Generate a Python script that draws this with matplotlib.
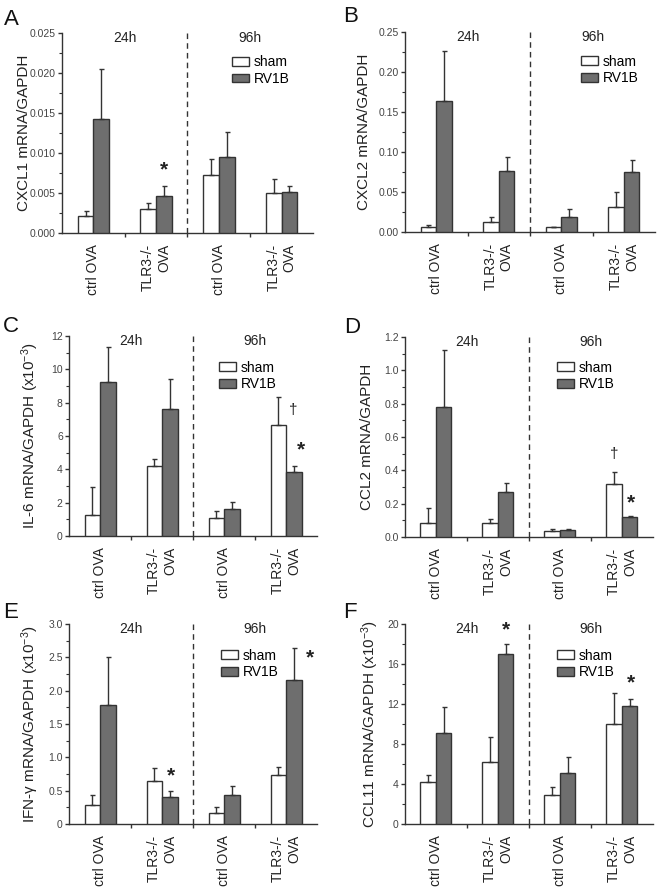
import numpy as np
import matplotlib
matplotlib.use("Agg")
import matplotlib.pyplot as plt
from matplotlib.ticker import MultipleLocator, FixedLocator, FuncFormatter

plt.rcParams['font.family'] = ['Liberation Sans', 'DejaVu Sans']
plt.rcParams['mathtext.fontset'] = 'custom'
plt.rcParams['mathtext.rm'] = 'Liberation Sans'
plt.rcParams['mathtext.it'] = 'Liberation Sans:italic'

groups = ["ctrl OVA", "TLR3-/-\nOVA", "ctrl OVA", "TLR3-/-\nOVA"]
series = ["sham", "RV1B"]

# panel A - CXCL1
a_sham = [0.00213, 0.0030, 0.00723, 0.00506]
a_sham_err = [0.00059, 0.00076, 0.00205, 0.00167]
a_rv = [0.0143, 0.00464, 0.00949, 0.00518]
a_rv_err = [0.0062, 0.00121, 0.0031, 0.00072]

# panel B - CXCL2
b_sham = [0.0058, 0.0125, 0.0058, 0.0313]
b_sham_err = [0.0034, 0.0058, 0.0009, 0.0183]
b_rv = [0.164, 0.0767, 0.0183, 0.0754]
b_rv_err = [0.0627, 0.0171, 0.010, 0.0146]

# panel C - IL-6 (x10^-3)
c_sham = [1.24, 4.21, 1.08, 6.65]
c_sham_err = [1.71, 0.44, 0.42, 1.69]
c_rv = [9.26, 7.6, 1.64, 3.85]
c_rv_err = [2.06, 1.8, 0.40, 0.38]

# panel D - CCL2
d_sham = [0.082, 0.082, 0.034, 0.317]
d_sham_err = [0.094, 0.028, 0.012, 0.073]
d_rv = [0.78, 0.27, 0.044, 0.122]
d_rv_err = [0.342, 0.055, 0.004, 0.002]

# panel E - IFN-gamma (x10^-3)
e_sham = [0.29, 0.64, 0.166, 0.73]
e_sham_err = [0.14, 0.20, 0.09, 0.12]
e_rv = [1.79, 0.41, 0.43, 2.16]
e_rv_err = [0.71, 0.08, 0.14, 0.48]

# panel F - CCL11 (x10^-3)
f_sham = [4.2, 6.23, 2.87, 9.97]
f_sham_err = [0.7, 2.47, 0.8, 3.16]
f_rv = [9.1, 16.97, 5.13, 11.8]
f_rv_err = [2.57, 1.0, 1.6, 0.73]

# significance marks: (x, y, symbol)
a_marks = [(1.13, 0.0079, "*")]
b_marks = []
c_marks = [(3.11, 7.55, "\u2020"), (3.24, 5.19, "*")]
d_marks = [(2.875, 0.50, "\u2020"), (3.15, 0.204, "*")]
e_marks = [(1.15, 0.72, "*"), (3.38, 2.49, "*")]
f_marks = [(1.13, 19.4, "*"), (3.14, 14.1, "*")]

EDGE = "#333333"
DARK = "#6e6e6e"

panels = [
    dict(letter="A", rect=[0.0942, 0.7376, 0.3815, 0.2252], letter_xy=(4, 25),
         sham=a_sham, sham_err=a_sham_err, rv=a_rv, rv_err=a_rv_err, marks=a_marks,
         ylim=0.025, major=0.005, fmt="{:.3f}", ylabel="CXCL1 mRNA/GAPDH",
         labx=-0.125, leg=(0.677, 0.8125)),
    dict(letter="B", rect=[0.6155, 0.7387, 0.3800, 0.2252], letter_xy=(343, 22),
         sham=b_sham, sham_err=b_sham_err, rv=b_rv, rv_err=b_rv_err, marks=b_marks,
         ylim=0.25, major=0.05, fmt="{:.2f}", ylabel="CXCL2 mRNA/GAPDH",
         labx=-0.134, leg=(0.704, 0.81)),
    dict(letter="C", rect=[0.1049, 0.3964, 0.3769, 0.2252], letter_xy=(3, 332),
         sham=c_sham, sham_err=c_sham_err, rv=c_rv, rv_err=c_rv_err, marks=c_marks,
         ylim=12, major=2, fmt="{:.0f}",
         ylabel="IL-6 mRNA/GAPDH (x10$^{\\mathregular{-3}}$)",
         labx=-0.115, leg=(0.605, 0.80)),
    dict(letter="D", rect=[0.6155, 0.3953, 0.3769, 0.2252], letter_xy=(344, 333),
         sham=d_sham, sham_err=d_sham_err, rv=d_rv, rv_err=d_rv_err, marks=d_marks,
         ylim=1.2, major=0.2, fmt="{:.1f}", ylabel="CCL2 mRNA/GAPDH",
         labx=-0.123, leg=(0.613, 0.805)),
    dict(letter="E", rect=[0.1049, 0.0721, 0.3769, 0.2252], letter_xy=(3, 618),
         sham=e_sham, sham_err=e_sham_err, rv=e_rv, rv_err=e_rv_err, marks=e_marks,
         ylim=3.0, major=0.5, fmt="e",
         ylabel="IFN-\u03b3 mRNA/GAPDH (x10$^{\\mathregular{-3}}$)",
         labx=-0.115, leg=(0.613, 0.80)),
    dict(letter="F", rect=[0.6155, 0.0721, 0.3769, 0.2252], letter_xy=(343, 618),
         sham=f_sham, sham_err=f_sham_err, rv=f_rv, rv_err=f_rv_err, marks=f_marks,
         ylim=20, major=4, fmt="{:.0f}",
         ylabel="CCL11 mRNA/GAPDH (x10$^{\\mathregular{-3}}$)",
         labx=-0.095, leg=(0.613, 0.80)),
]

W, H = 658, 888
fig = plt.figure(figsize=(W / 100, H / 100), dpi=100)
x = np.arange(len(groups))
w = 0.25

for p in panels:
    ax = fig.add_axes(p["rect"])
    zeros = np.zeros(len(x))
    ekw = dict(ecolor=EDGE, elinewidth=1, capsize=1.8, capthick=1)
    b1 = ax.bar(x - w / 2, p["sham"], w, color="white", edgecolor=EDGE, linewidth=1,
                yerr=[zeros, p["sham_err"]], error_kw=ekw, label=series[0], zorder=3)
    b2 = ax.bar(x + w / 2, p["rv"], w, color=DARK, edgecolor=EDGE, linewidth=1,
                yerr=[zeros, p["rv_err"]], error_kw=ekw, label=series[1], zorder=3)

    ax.set_xlim(-0.5, 3.5)
    ax.set_ylim(0, p["ylim"])
    ax.axvline(1.5, color=EDGE, lw=1, dashes=(4, 3))

    for s in ["top", "right"]:
        ax.spines[s].set_visible(False)
    for s in ["left", "bottom"]:
        ax.spines[s].set_color(EDGE)
        ax.spines[s].set_linewidth(1)

    ax.set_xticks(x)
    ax.set_xticklabels(groups, rotation=90, ha="center", va="top",
                       multialignment="right", fontsize=10, color="#222222")
    ax.xaxis.set_minor_locator(FixedLocator([0.5, 1.5, 2.5]))
    ax.tick_params(axis="x", which="major", length=0, pad=8)
    ax.tick_params(axis="x", which="minor", length=3, width=1, color=EDGE)

    ax.yaxis.set_major_locator(MultipleLocator(p["major"]))
    ax.yaxis.set_minor_locator(MultipleLocator(p["major"] / 2))
    if p["fmt"] == "e":
        ax.yaxis.set_major_formatter(FuncFormatter(lambda v, pos: "0" if v == 0 else f"{v:.1f}"))
    else:
        f = p["fmt"]
        ax.yaxis.set_major_formatter(FuncFormatter(lambda v, pos, f=f: f.format(v)))
    ax.tick_params(axis="y", which="major", length=3, width=1, color=EDGE,
                   labelsize=7.5, labelcolor="#444444", pad=1.5)
    ax.tick_params(axis="y", which="minor", length=2, width=0.8, color=EDGE)

    ax.set_ylabel(p["ylabel"], fontsize=11, color="#222222")
    ax.yaxis.set_label_coords(p["labx"], 0.5)

    ax.text(0.5, 0.975, "24h", transform=ax.get_xaxis_transform(), ha="center",
            va="center", fontsize=10, color="#222222")
    ax.text(2.5, 0.975, "96h", transform=ax.get_xaxis_transform(), ha="center",
            va="center", fontsize=10, color="#222222")

    for mx, my, sym in p["marks"]:
        if sym == "*":
            ax.text(mx, my, sym, ha="center", va="center", fontsize=15,
                    fontweight="bold", color="#222222")
        else:
            ax.text(mx, my, sym, ha="center", va="center", fontsize=11,
                    color="#222222")

    ax.legend(handles=[b1, b2], loc="center left", bbox_to_anchor=p["leg"],
              frameon=False, fontsize=10, borderpad=0, borderaxespad=0,
              handlelength=1.2, handleheight=0.6, handletextpad=0.35,
              labelspacing=0.2)

    lx, ly = p["letter_xy"]
    fig.text(lx / W, 1 - ly / H, p["letter"], fontsize=16, va="baseline",
             ha="left", color="#111111")

fig.savefig("out.png", dpi=100)
